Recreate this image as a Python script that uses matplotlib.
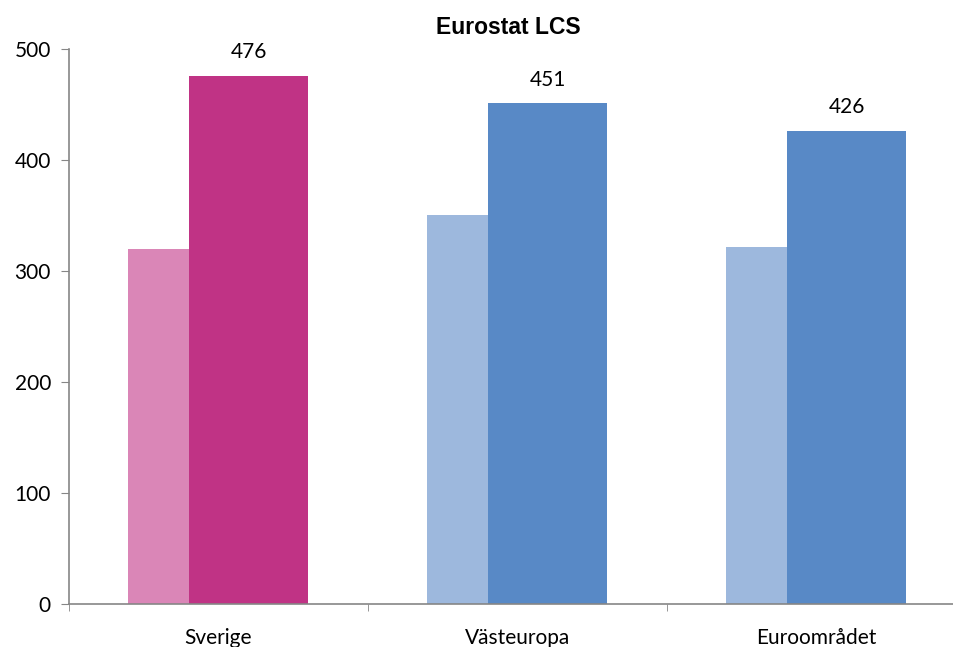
import numpy as np
import matplotlib.pyplot as plt

# data
categories = ['Sverige', 'Västeuropa', 'Euroområdet']
light_vals = [320, 350, 322]
dark_vals = [476, 451, 426]
light_colors = ['#DA86B7', '#9DB8DD', '#9DB8DD']
dark_colors = ['#C03385', '#5889C6', '#5889C6']

plt.rcParams['font.family'] = ['Lato', 'DejaVu Sans']

fig = plt.figure(figsize=(9.54, 6.47), dpi=100)
ax = fig.add_axes([69 / 954, 43 / 647, 897 / 954, 555 / 647])

x = np.arange(len(categories))
# narrow light bar on the left, wide dark bar next to it
ax.bar(x - 0.3027, light_vals, width=0.204, align='edge', color=light_colors)
bars = ax.bar(x - 0.0987, dark_vals, width=0.398, align='edge', color=dark_colors)

for b, v in zip(bars, dark_vals):
    ax.annotate(str(v), (b.get_x() + b.get_width() / 2, v), xytext=(0, 10),
                textcoords='offset points', ha='center', va='bottom', fontsize=15)

ax.set_xlim(-0.5, 2.5)
ax.set_ylim(0, 500)
ax.set_yticks(range(0, 501, 100))
ax.set_xticks(x)
ax.set_xticklabels(categories)
ax.set_xticks([-0.5, 0.5, 1.5, 2.5], minor=True)
ax.tick_params(axis='x', which='major', length=0, pad=17, labelsize=15)
ax.tick_params(axis='x', which='minor', length=5, color='#868686')
ax.tick_params(axis='y', length=6, color='#868686', labelsize=15, pad=7)

for s in ['top', 'right']:
    ax.spines[s].set_visible(False)
for s in ['left', 'bottom']:
    ax.spines[s].set_color('#868686')
    ax.spines[s].set_linewidth(1.2)

fig.text(508 / 954, 1 - 27 / 647, 'Eurostat LCS', ha='center', va='center',
         fontsize=16.5, fontweight='bold', family=['Liberation Sans', 'DejaVu Sans'])

fig.savefig('out.png', dpi=100)
